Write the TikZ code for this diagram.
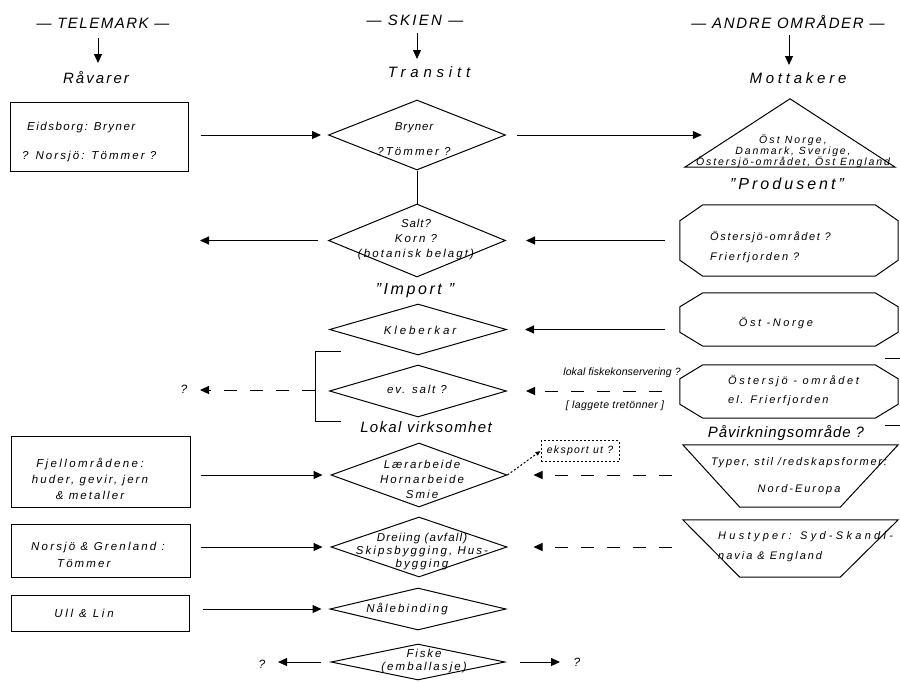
\documentclass[tikz,border=0pt]{standalone}
\usepackage{fontspec}
\setmainfont{Liberation Sans}[LetterSpace=18]
\usetikzlibrary{shapes.geometric,arrows.meta,calc}
\newcommand{\LS}[1]{\addfontfeature{LetterSpace=#1}}
% octagon outline round a named ghost node: #1 node, #2 horizontal chamfer, #3 vertical chamfer
\newcommand{\octo}[3]{\draw[base] ($(#1.north west)+(#2,0)$) -- ($(#1.north east)+(-#2,0)$) -- ($(#1.north east)+(0,#3)$) -- ($(#1.south east)+(0,-#3)$) -- ($(#1.south east)+(-#2,0)$) -- ($(#1.south west)+(#2,0)$) -- ($(#1.south west)+(0,-#3)$) -- ($(#1.north west)+(0,#3)$) -- cycle;}
\tikzset{
 base/.style={line width=1pt},
 arr/.style={base,-{Triangle[length=9pt,width=8pt]}},
 darr/.style={arr,dash pattern=on 13pt off 13pt},
 harr/.style={base,-{Triangle[length=9pt,width=8pt]}},
 txt/.style={inner sep=0pt,align=center,font=\itshape\fontsize{11.5}{14}\selectfont},
 big/.style={inner sep=0pt,align=center,font=\itshape\fontsize{15}{18}\selectfont},
 rbox/.style={draw,base,inner sep=0pt},
 dia/.style={draw,base,diamond,inner sep=0pt},
 ghost/.style={inner sep=0pt},
}
\begin{document}
\begin{tikzpicture}[x=1pt,y=-1pt]
\useasboundingbox (0,0) rectangle (900,681);
% headers
\node[big] (h1) at (103,23) {\LS{10}— TELEMARK —};
\node[big] (h2) at (415,20) {\LS{15}— SKIEN —};
\node[big] (h3) at (788,22) {\LS{11}— ANDRE OMRÅDER —};
\node[big] (s1) at (96,78) {\LS{14}Råvarer};
\node[big] (s2) at (429,72) {\LS{32}Transitt};
\node[big] (s3) at (798,78) {\LS{25}Mottakere};
\coordinate (a1s) at (98,38); \coordinate (a1e) at (98,63);
\coordinate (a2s) at (417,33); \coordinate (a2e) at (417,59);
\coordinate (a3s) at (789,35); \coordinate (a3e) at (789,65);
\draw[harr] (a1s) -- (a1e);
\draw[harr] (a2s) -- (a2e);
\draw[harr] (a3s) -- (a3e);
% left boxes
\node[rbox,minimum width=178pt,minimum height=69pt] (b1) at (99,136.5) {};
\node[txt,align=left,anchor=west,font=\itshape\fontsize{11.5}{29}\selectfont] (b1t) at (22,142.5) {\LS{13}\hspace*{5pt}Eidsborg: Bryner\\? Norsjö: Tömmer ?};
\node[rbox,minimum width=179pt,minimum height=71pt] (b2) at (100.5,471.5) {};
\node[txt,font=\itshape\fontsize{11.5}{16}\selectfont] (b2t) at (90,479) {\LS{21}Fjellområdene:\\huder, gevir, jern\\\& metaller};
\node[rbox,minimum width=179pt,minimum height=53pt] (b3) at (100.5,550.5) {};
\node[txt,align=left,anchor=west,font=\itshape\fontsize{11.5}{17}\selectfont] (b3t) at (31,554.5) {\LS{19}Norsjö \& Grenland :\\\hspace*{26pt}Tömmer};
\node[rbox,minimum width=178pt,minimum height=36pt] (b4) at (100,613) {};
\node[txt] (b4t) at (84,613) {\LS{24}Ull \& Lin};
% diamonds
\node[dia,minimum width=177pt,minimum height=70pt] (d1) at (417,135) {};
\node[txt,font=\itshape\fontsize{11.5}{25}\selectfont] (d1t) at (414,139.5) {\LS{8}Bryner\\?Tömmer ?};
\node[dia,minimum width=177pt,minimum height=73pt] (d2) at (417,240.5) {};
\node[txt,font=\itshape\fontsize{11.5}{15}\selectfont] (d2t) at (416,240) {\LS{8}Salt?\\Korn ?\\(botanisk belagt)};
\node[dia,minimum width=177pt,minimum height=51pt] (d3) at (418,329.5) {};
\node[txt] (d3t) at (420,330) {\LS{25}Kleberkar};
\node[dia,minimum width=177pt,minimum height=52pt] (d4) at (418,391) {};
\node[txt] (d4t) at (417,389) {\LS{16}ev. salt ?};
\node[dia,minimum width=176pt,minimum height=64pt] (d5) at (419,475) {};
\node[txt,font=\itshape\fontsize{11.5}{15}\selectfont] (d5t) at (422,479.5) {\LS{17}Lærarbeide\\Hornarbeide\\Smie};
\node[dia,minimum width=176pt,minimum height=60pt] (d6) at (419,547) {};
\node[txt,font=\itshape\fontsize{11.5}{13}\selectfont] (d6t) at (422,552) {\LS{10}Dreiing (avfall)\\Skipsbygging, Hus-\\bygging};
\node[dia,minimum width=176pt,minimum height=42pt] (d7) at (418,609) {};
\node[txt] (d7t) at (407,609) {\LS{18}Nålebinding};
\node[dia,minimum width=174pt,minimum height=36pt] (d8) at (418,662) {};
\node[txt,font=\itshape\fontsize{11.5}{13}\selectfont] (d8t) at (424,661.5) {\LS{16}Fiske\\(emballasje)};
\draw[base] (d1.south) -- (d2.north);
\node[big,font=\itshape\fontsize{16}{18}\selectfont] (imp) at (415,291) {\LS{16}"Import "};
\node[big] (lok) at (426,427) {\LS{9}Lokal virksomhet};
% right shapes
\node[ghost,minimum width=210pt,minimum height=68pt] (tri) at (790,133) {};
\draw[base] (tri.south west) -- (tri.north) -- (tri.south east) -- cycle;
\node[txt,font=\itshape\fontsize{10.5}{11}\selectfont] (trit) at (793,151) {\LS{20}Öst Norge,\\Danmark, Sverige,\\Östersjö-området, Öst England};
\node[big,font=\itshape\fontsize{16}{18}\selectfont] (prod) at (787,184) {\LS{19}"Produsent"};
\node[ghost,minimum width=218pt,minimum height=71pt] (o1) at (789,240.5) {};
\octo{o1}{23}{16}
\node[txt,align=left,anchor=west,font=\itshape\fontsize{11}{20}\selectfont] (o1t) at (710,247) {\LS{15}Östersjö-området ?\\Frierfjorden ?};
\node[ghost,minimum width=218pt,minimum height=53pt] (o2) at (789,319.5) {};
\octo{o2}{23}{14}
\node[txt,font=\itshape\fontsize{11}{13}\selectfont] (o2t) at (776,323) {\LS{23}Öst -Norge};
\node[ghost,minimum width=218pt,minimum height=53pt] (o3) at (789,391.5) {};
\octo{o3}{23}{14}
\node[txt,align=left,anchor=west,font=\itshape\fontsize{11}{19}\selectfont] (o3t) at (728,390.5) {\LS{24}Östersjö - området\\el. Frierfjorden};
\node[big] (pav) at (786,433) {\LS{6}Påvirkningsområde ?};
\node[ghost,minimum width=215pt,minimum height=62pt] (tz1) at (790.5,476) {};
\draw[base] (tz1.north west) -- (tz1.north east) -- ($(tz1.south east)+(-58,0)$) -- ($(tz1.south west)+(57,0)$) -- cycle;
\node[txt,font=\itshape\fontsize{11}{27}\selectfont] (tz1t) at (799,476.5) {\LS{16}Typer, stil /redskapsformer:\\Nord-Europa};
\node[ghost,minimum width=215pt,minimum height=57pt] (tz2) at (790.5,548.5) {};
\draw[base] (tz2.north west) -- (tz2.north east) -- ($(tz2.south east)+(-58,0)$) -- ($(tz2.south west)+(57,0)$) -- cycle;
\node[txt,align=left,anchor=west,font=\itshape\fontsize{11}{20}\selectfont] (tz2t) at (718,547) {\LS{30}Hustyper: Syd-Skandi-\\navia \& England};
\coordinate (e1a) at (885,358); \coordinate (e1b) at (900,358);
\coordinate (e2a) at (885,425); \coordinate (e2b) at (900,425);
\draw[base] (e1a) -- (e1b);
\draw[base] (e2a) -- (e2b);
% connectors
\draw[arr] ($(b1.east |- d1.west)+(12,0)$) -- ($(d1.west)+(-7,0)$);
\draw[arr] ($(d1.east)+(11,0)$) -- ($(tri.west |- d1.east)+(17,0)$);
\coordinate (q1) at (200,240.5);
\draw[arr] ($(d2.west)+(-10,0)$) -- (q1);
\draw[arr] ($(o1.west |- d2.east)+(-15,0)$) -- ($(d2.east)+(20,0)$);
\draw[arr] ($(o2.west |- d3.east)+(-15,0)$) -- ($(d3.east)+(18,0)$);
\draw[darr] ($(o3.west |- d4.east)+(-18,0)$) -- ($(d4.east)+(19,0)$);
\node[txt,font=\itshape\fontsize{10.5}{12}\selectfont] (lfk) at (622,373) {\LS{1}lokal fiskekonservering ?};
\node[txt,font=\itshape\fontsize{10.5}{12}\selectfont] (lag) at (615,406) {\LS{4}[ laggete tretönner ]};
\draw[base] (341,351) -- (315,351) -- (315,421) -- (341,421);
\coordinate (brk) at (315,390); \coordinate (q2) at (200,390);
\draw[darr] (brk) -- (q2);
\node[txt,font=\itshape\fontsize{12}{14}\selectfont] (qm1) at (184,389) {?};
\draw[arr] ($(b2.east |- d5.west)+(10,0)$) -- ($(d5.west)+(-8,0)$);
\draw[darr] ($(tz1.west |- d5.east)+(-11,0)$) -- ($(d5.east)+(26,0)$);
\node[draw,base,dash pattern=on 2pt off 2pt,txt,font=\itshape\fontsize{10.5}{12}\selectfont,inner sep=0pt,minimum width=78pt,minimum height=21pt] (ek) at (580,451) {\LS{12}eksport ut ?};
\draw[base,dash pattern=on 2pt off 2pt,-{Triangle[length=5pt,width=4pt]}] (d5.east) -- (ek.west);
\draw[arr] ($(b3.east |- d6.west)+(10,0)$) -- ($(d6.west)+(-8,0)$);
\draw[darr] ($(tz2.west |- d6.east)+(-11,0)$) -- ($(d6.east)+(26,0)$);
\draw[arr] ($(b4.east |- d7.west)+(13,0)$) -- ($(d7.west)+(-8,0)$);
\coordinate (q3) at (278,662); \coordinate (q4) at (560,662);
\draw[arr] ($(d8.west)+(-10,0)$) -- (q3);
\draw[arr] ($(d8.east)+(14,0)$) -- (q4);
\node[txt,font=\itshape\fontsize{12}{14}\selectfont] (qm2) at (262,664) {?};
\node[txt,font=\itshape\fontsize{12}{14}\selectfont] (qm3) at (577,662) {?};
\end{tikzpicture}
\end{document}
